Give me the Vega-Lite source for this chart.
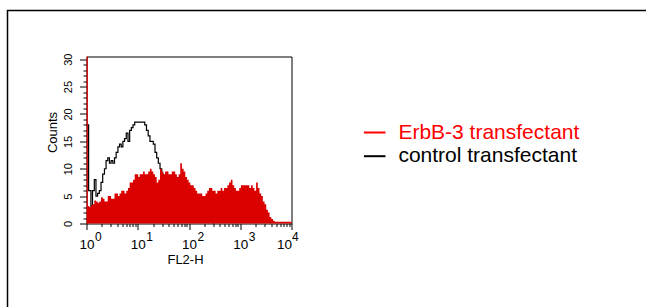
{
  "$schema": "https://vega.github.io/schema/vega-lite/v6.json",
  "width": 650,
  "height": 310,
  "autosize": "none",
  "padding": {"left": 7.5, "top": 10.5, "right": -11.5, "bottom": -13.5},
  "background": "white",
  "config": {
    "font": "Liberation Sans",
    "view": {"stroke": "#000000", "strokeWidth": 1.5},
    "axis": {"domainColor": "#000000", "tickColor": "#000000", "labelColor": "#000000", "titleColor": "#000000", "titleFontWeight": "normal", "grid": false, "zindex": 1, "domainWidth": 1, "tickWidth": 1}
  },
  "datasets": {
    "erbb": [
      {"x": 1, "count": 30.5}, {"x": 1.06, "count": 3.2}, {"x": 1.13, "count": 3}, {"x": 1.22, "count": 3.4}, {"x": 1.31, "count": 3.5},
      {"x": 1.42, "count": 4.2}, {"x": 1.53, "count": 4}, {"x": 1.65, "count": 3.8}, {"x": 1.78, "count": 4}, {"x": 1.92, "count": 4.8},
      {"x": 2.07, "count": 4.5}, {"x": 2.24, "count": 4}, {"x": 2.41, "count": 4}, {"x": 2.6, "count": 5}, {"x": 2.8, "count": 5},
      {"x": 3.02, "count": 4.5}, {"x": 3.26, "count": 4.5}, {"x": 3.52, "count": 5.5}, {"x": 3.79, "count": 5.5}, {"x": 4.1, "count": 5},
      {"x": 4.41, "count": 5.5}, {"x": 4.76, "count": 6}, {"x": 5.13, "count": 6}, {"x": 5.53, "count": 5.5}, {"x": 5.97, "count": 6},
      {"x": 6.45, "count": 6.5}, {"x": 6.95, "count": 7.5}, {"x": 7.5, "count": 7.5}, {"x": 8.09, "count": 8}, {"x": 8.73, "count": 9},
      {"x": 9.41, "count": 9}, {"x": 10.2, "count": 8.5}, {"x": 10.9, "count": 9}, {"x": 11.8, "count": 9}, {"x": 12.7, "count": 9.5},
      {"x": 13.7, "count": 9}, {"x": 14.8, "count": 9}, {"x": 16, "count": 9.5}, {"x": 17.3, "count": 10}, {"x": 18.6, "count": 9.5},
      {"x": 20.1, "count": 9}, {"x": 21.7, "count": 8.5}, {"x": 23.4, "count": 7.5}, {"x": 25.2, "count": 8}, {"x": 27.2, "count": 10},
      {"x": 29.4, "count": 9.5}, {"x": 31.6, "count": 9}, {"x": 34.2, "count": 9.5}, {"x": 36.8, "count": 9.5}, {"x": 39.7, "count": 9},
      {"x": 42.8, "count": 9}, {"x": 46.2, "count": 9.5}, {"x": 49.8, "count": 9.5}, {"x": 53.7, "count": 9}, {"x": 58, "count": 8.5},
      {"x": 62.6, "count": 9}, {"x": 67.5, "count": 11}, {"x": 72.8, "count": 10}, {"x": 78.5, "count": 9.5}, {"x": 84.7, "count": 8.5},
      {"x": 91.3, "count": 8}, {"x": 98.5, "count": 7.5}, {"x": 106, "count": 7}, {"x": 115, "count": 7}, {"x": 124, "count": 6.5},
      {"x": 134, "count": 6}, {"x": 144, "count": 5.5}, {"x": 155, "count": 5.5}, {"x": 167, "count": 5.5}, {"x": 181, "count": 5},
      {"x": 195, "count": 5}, {"x": 210, "count": 5.5}, {"x": 227, "count": 6}, {"x": 245, "count": 6.5}, {"x": 264, "count": 6.5},
      {"x": 285, "count": 6}, {"x": 307, "count": 6}, {"x": 331, "count": 5.5}, {"x": 357, "count": 6}, {"x": 385, "count": 6},
      {"x": 415, "count": 6.5}, {"x": 448, "count": 6}, {"x": 483, "count": 6.5}, {"x": 521, "count": 6.5}, {"x": 562, "count": 7},
      {"x": 606, "count": 7.5}, {"x": 654, "count": 8}, {"x": 705, "count": 7}, {"x": 761, "count": 6.5}, {"x": 821, "count": 6},
      {"x": 886, "count": 6}, {"x": 955, "count": 6.5}, {"x": 1031, "count": 7}, {"x": 1112, "count": 7}, {"x": 1199, "count": 7},
      {"x": 1294, "count": 7}, {"x": 1396, "count": 7}, {"x": 1506, "count": 6.5}, {"x": 1624, "count": 7}, {"x": 1752, "count": 6.5},
      {"x": 1890, "count": 6}, {"x": 2039, "count": 7.5}, {"x": 2199, "count": 6.5}, {"x": 2372, "count": 5.5}, {"x": 2559, "count": 5},
      {"x": 2761, "count": 4}, {"x": 2978, "count": 3.5}, {"x": 3212, "count": 2.5}, {"x": 3465, "count": 2}, {"x": 3738, "count": 1.2},
      {"x": 4032, "count": 0.8}, {"x": 4350, "count": 0.5}, {"x": 4692, "count": 0.3}, {"x": 10000, "count": 0.3}
    ],
    "control": [
      {"x": 1, "count": 18, "series": "control transfectant"}, {"x": 1.1, "count": 6, "series": "control transfectant"},
      {"x": 1.22, "count": 3, "series": "control transfectant"}, {"x": 1.31, "count": 6, "series": "control transfectant"},
      {"x": 1.42, "count": 8, "series": "control transfectant"}, {"x": 1.53, "count": 5, "series": "control transfectant"},
      {"x": 1.65, "count": 5.5, "series": "control transfectant"}, {"x": 1.78, "count": 6, "series": "control transfectant"},
      {"x": 1.92, "count": 7.5, "series": "control transfectant"}, {"x": 2.07, "count": 9, "series": "control transfectant"},
      {"x": 2.24, "count": 10, "series": "control transfectant"}, {"x": 2.41, "count": 11.5, "series": "control transfectant"},
      {"x": 2.6, "count": 12, "series": "control transfectant"}, {"x": 2.8, "count": 11, "series": "control transfectant"},
      {"x": 3.02, "count": 11.5, "series": "control transfectant"}, {"x": 3.26, "count": 11, "series": "control transfectant"},
      {"x": 3.52, "count": 12, "series": "control transfectant"}, {"x": 3.79, "count": 13, "series": "control transfectant"},
      {"x": 4.1, "count": 14, "series": "control transfectant"}, {"x": 4.41, "count": 14.5, "series": "control transfectant"},
      {"x": 4.76, "count": 14, "series": "control transfectant"}, {"x": 5.13, "count": 15, "series": "control transfectant"},
      {"x": 5.53, "count": 15.5, "series": "control transfectant"}, {"x": 5.97, "count": 16.5, "series": "control transfectant"},
      {"x": 6.45, "count": 15, "series": "control transfectant"}, {"x": 6.95, "count": 17, "series": "control transfectant"},
      {"x": 7.5, "count": 17.5, "series": "control transfectant"}, {"x": 8.09, "count": 18, "series": "control transfectant"},
      {"x": 8.73, "count": 18.5, "series": "control transfectant"}, {"x": 9.41, "count": 18.5, "series": "control transfectant"},
      {"x": 10.9, "count": 18.5, "series": "control transfectant"}, {"x": 12.7, "count": 18.5, "series": "control transfectant"},
      {"x": 13.7, "count": 18, "series": "control transfectant"}, {"x": 14.8, "count": 17, "series": "control transfectant"},
      {"x": 16, "count": 16, "series": "control transfectant"}, {"x": 17.3, "count": 15, "series": "control transfectant"},
      {"x": 18.6, "count": 15, "series": "control transfectant"}, {"x": 20.1, "count": 14.5, "series": "control transfectant"},
      {"x": 21.7, "count": 13, "series": "control transfectant"}, {"x": 23.4, "count": 12, "series": "control transfectant"},
      {"x": 25.2, "count": 11, "series": "control transfectant"}, {"x": 27.2, "count": 10, "series": "control transfectant"},
      {"x": 29.4, "count": 9, "series": "control transfectant"}, {"x": 31.6, "count": 8.5, "series": "control transfectant"},
      {"x": 36.8, "count": 7, "series": "control transfectant"}, {"x": 49.8, "count": 5, "series": "control transfectant"},
      {"x": 78.5, "count": 3, "series": "control transfectant"}, {"x": 150, "count": 1, "series": "control transfectant"},
      {"x": 300, "count": 0, "series": "control transfectant"}
    ]
  },
  "resolve": {"axis": {"x": "independent", "y": "independent"}},
  "layer": [
    {
      "data": {"name": "control"},
      "mark": {"type": "line", "interpolate": "step-after", "strokeWidth": 1.2},
      "encoding": {
        "x": {"field": "x", "type": "quantitative",
          "scale": {"type": "log", "domain": [1, 10000], "range": [79, 284], "nice": false},
          "axis": {"orient": "bottom", "offset": -97, "values": [1, 10, 100, 1000, 10000], "labelExpr": "'10'", "tickSize": 6,
            "labelFontSize": 13.5, "labelBaseline": "alphabetic", "labelPadding": 19,
            "labelAlign": {"condition": {"test": "datum.value >= 10000", "value": "right"}, "value": "center"},
            "labelFlush": false, "labelBound": false, "labelOverlap": false,
            "title": "FL2-H", "titleFontSize": 13, "titleX": 177.5, "titleY": 40.3, "titleBaseline": "alphabetic", "titleAlign": "center"}},
        "y": {"field": "count", "type": "quantitative",
          "scale": {"domain": [0, 30.5], "range": [213, 46], "nice": false, "zero": false},
          "axis": {"orient": "left", "offset": -79, "values": [0, 5, 10, 15, 20, 25, 30], "tickSize": 7,
            "labelAngle": -90, "labelAlign": "center", "labelBaseline": "alphabetic", "labelPadding": 8, "labelFontSize": 11,
            "labelOverlap": false, "labelBound": false, "labelFlush": false,
            "title": "Counts", "titleFontSize": 13, "titleAngle": -90, "titleX": -30.5, "titleY": 121.5, "titleBaseline": "alphabetic", "titleAlign": "center"}},
        "color": {"field": "series", "type": "nominal",
          "scale": {"domain": ["ErbB-3 transfectant", "control transfectant"], "range": ["#ff0000", "#000000"]},
          "legend": {"orient": "none", "legendX": 355.2, "legendY": 110, "title": null, "symbolType": "stroke", "symbolSize": 466,
            "symbolStrokeWidth": 2, "labelFontSize": 21, "labelLimit": 400, "labelOffset": 11.7, "rowPadding": 1.7, "padding": 0,
            "labelColor": {"expr": "datum.label == 'ErbB-3 transfectant' ? '#ff0000' : '#000000'"}}}
      }
    },
    {
      "data": {"name": "erbb"},
      "mark": {"type": "area", "interpolate": "step-after", "fill": "#da0000"},
      "encoding": {
        "x": {"field": "x", "type": "quantitative",
          "scale": {"type": "log", "domain": [1, 10000], "range": [79, 284], "nice": false},
          "axis": {"orient": "bottom", "offset": -97, "values": [2, 3, 4, 5, 6, 7, 8, 9, 20, 30, 40, 50, 60, 70, 80, 90, 200, 300, 400, 500, 600, 700, 800, 900, 2000, 3000, 4000, 5000, 6000, 7000, 8000, 9000],
            "tickSize": 3, "labels": false, "domain": false, "title": null}},
        "y": {"field": "count", "type": "quantitative",
          "scale": {"domain": [0, 30.5], "range": [213, 46], "nice": false, "zero": false},
          "axis": {"orient": "left", "offset": -79, "values": [1, 2, 3, 4, 6, 7, 8, 9, 11, 12, 13, 14, 16, 17, 18, 19, 21, 22, 23, 24, 26, 27, 28, 29],
            "tickSize": 3.5, "labels": false, "domain": false, "title": null}}
      }
    },
    {
      "data": {"name": "control"},
      "mark": {"type": "line", "opacity": 0},
      "encoding": {
        "x": {"field": "x", "type": "quantitative",
          "scale": {"type": "log", "domain": [1, 10000], "range": [79, 284], "nice": false},
          "axis": {"orient": "bottom", "offset": -97, "values": [1, 10, 100, 1000, 10000],
            "labelExpr": "round(log(datum.value)/LN10) + ''", "ticks": false, "tickSize": 0, "domain": false,
            "labelFontSize": 12, "labelAlign": "left", "labelBaseline": "alphabetic", "labelPadding": 16.5,
            "labelOffset": {"condition": {"test": "datum.value >= 10000", "value": 0}, "value": 8},
            "labelFlush": false, "labelBound": false, "labelOverlap": false, "title": null}},
        "y": {"field": "count", "type": "quantitative",
          "scale": {"domain": [0, 30.5], "range": [213, 46], "nice": false, "zero": false},
          "axis": {"orient": "right", "offset": -366, "ticks": false, "labels": false, "domain": true, "title": null}}
      }
    },
    {
      "data": {"name": "control"},
      "mark": {"type": "line", "opacity": 0},
      "encoding": {
        "x": {"field": "x", "type": "quantitative",
          "scale": {"type": "log", "domain": [1, 10000], "range": [79, 284], "nice": false},
          "axis": {"orient": "top", "offset": -46, "ticks": false, "labels": false, "domain": true, "title": null}},
        "y": {"field": "count", "type": "quantitative",
          "scale": {"domain": [0, 30.5], "range": [213, 46], "nice": false, "zero": false},
          "axis": null}
      }
    }
  ]
}
